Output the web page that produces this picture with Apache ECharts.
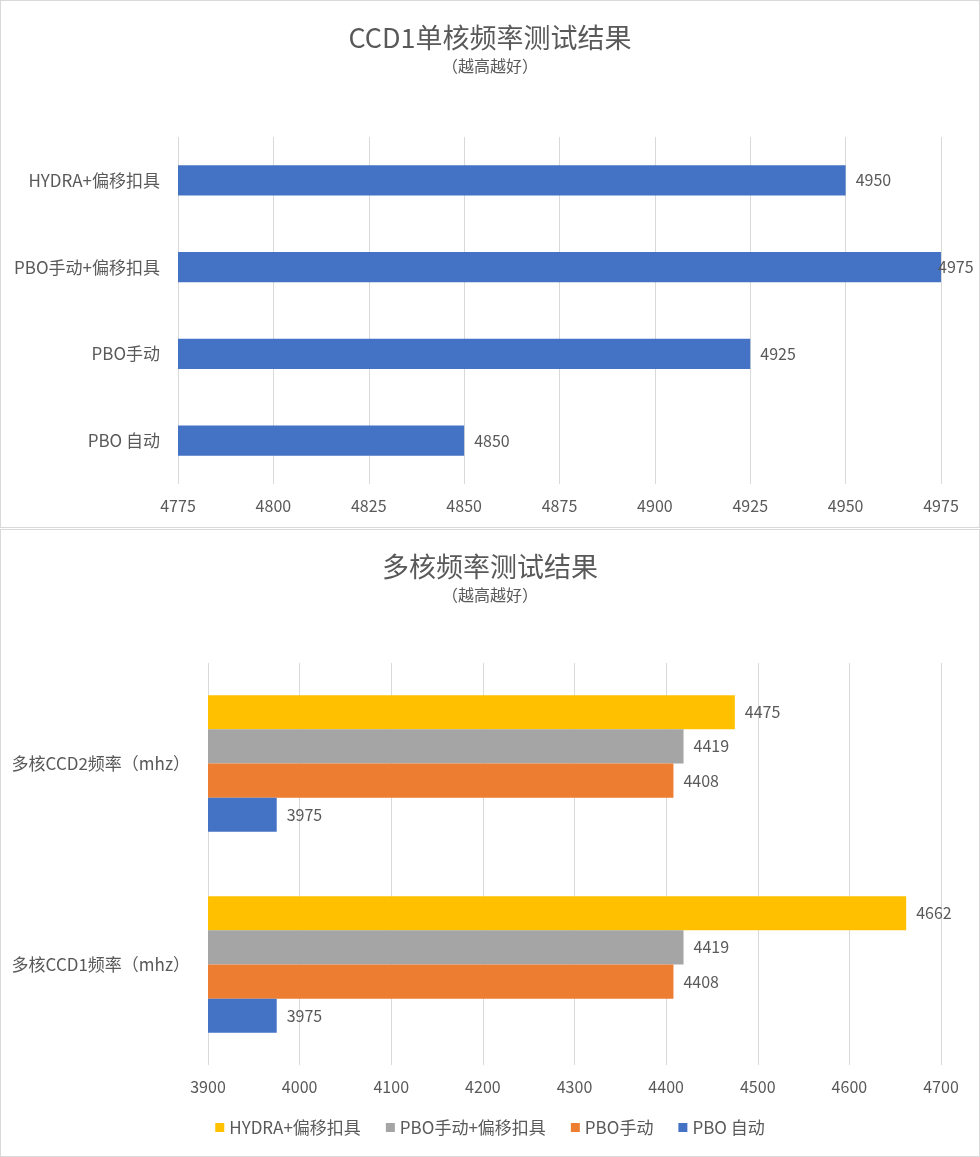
<!DOCTYPE html>
<html><head><meta charset="utf-8">
<script src="https://cdn.jsdelivr.net/npm/echarts@6/dist/echarts.min.js"></script>
<style>
html,body{margin:0;padding:0;background:#fff;}
#c1{position:absolute;left:0;top:0;width:978px;height:526px;border:1px solid #d9d9d9;}
#c2{position:absolute;left:0;top:529px;width:978px;height:626px;border:1px solid #d9d9d9;}
</style></head>
<body>
<div id="c1"></div><div id="c2"></div>
<script>
// Top chart data
const topCategories = ["PBO 自动", "PBO手动", "PBO手动+偏移扣具", "HYDRA+偏移扣具"];
const topValues = [4850, 4925, 4975, 4950];
const topTicks = {min: 4775, max: 4975, interval: 25};

// Bottom chart data
const bottomCategories = ["多核CCD1频率（mhz）", "多核CCD2频率（mhz）"];
const seriesNames = ["HYDRA+偏移扣具", "PBO手动+偏移扣具", "PBO手动", "PBO 自动"];
const hydraVals = [4662, 4475];
const pboManualOffsetVals = [4419, 4419];
const pboManualVals = [4408, 4408];
const pboAutoVals = [3975, 3975];
const bottomTicks = {min: 3900, max: 4700, interval: 100};

const FONT = '"Noto Sans CJK SC","Noto Sans",sans-serif';
const TXT = '#595959';
const GRID = '#d9d9d9';
const colors = ['#FFC000', '#A5A5A5', '#ED7D31', '#4472C4'];

const titleCfg = (t, s) => ({
  text: t, subtext: s, left: 'center', top: 18, itemGap: 7,
  textStyle: {fontFamily: FONT, fontSize: 27, fontWeight: 'normal', color: TXT},
  subtextStyle: {fontFamily: FONT, fontSize: 16, color: TXT}
});

const valueAxis = (tk) => ({
  type: 'value', min: tk.min, max: tk.max, interval: tk.interval,
  axisLine: {show: false}, axisTick: {show: false},
  axisLabel: {fontFamily: FONT, fontSize: 16, color: TXT, margin: 14, formatter: v => String(v)},
  splitLine: {show: true, lineStyle: {color: GRID, width: 1}}
});

const catAxis = (cats) => ({
  type: 'category', data: cats,
  axisLine: {show: false}, axisTick: {show: false},
  axisLabel: {fontFamily: FONT, fontSize: 17, color: TXT, margin: 18}
});

const lbl = {show: true, position: 'right', distance: 10, fontFamily: FONT, fontSize: 16, color: TXT};

const c1 = echarts.init(document.getElementById('c1'));
c1.setOption({
  animation: false,
  title: titleCfg('CCD1单核频率测试结果', '（越高越好）'),
  grid: {left: 177, right: 38, top: 136, bottom: 43},
  xAxis: valueAxis(topTicks),
  yAxis: catAxis(topCategories),
  series: [{
    type: 'bar', name: 'CCD1', barWidth: '35%',
    data: topValues.map(v => v >= topTicks.max ? {value: v, label: {distance: -3}} : v),
    itemStyle: {color: '#4472C4'}, label: lbl
  }]
});

const c2 = echarts.init(document.getElementById('c2'));
const allVals = [hydraVals, pboManualOffsetVals, pboManualVals, pboAutoVals];
c2.setOption({
  animation: false,
  title: titleCfg('多核频率测试结果', '（越高越好）'),
  legend: {
    data: seriesNames, top: 584, left: 'center', itemWidth: 9, itemHeight: 9, itemGap: 25,
    icon: 'rect', textStyle: {fontFamily: FONT, fontSize: 17, color: TXT}
  },
  grid: {left: 207, right: 38, top: 133, bottom: 91},
  xAxis: valueAxis(bottomTicks),
  yAxis: catAxis(bottomCategories),
  series: seriesNames.map((n, i) => ({
    type: 'bar', name: n, data: allVals[i], barGap: '0%', barCategoryGap: '32%',
    itemStyle: {color: colors[i]}, label: lbl
  }))
});
</script>
</body></html>
